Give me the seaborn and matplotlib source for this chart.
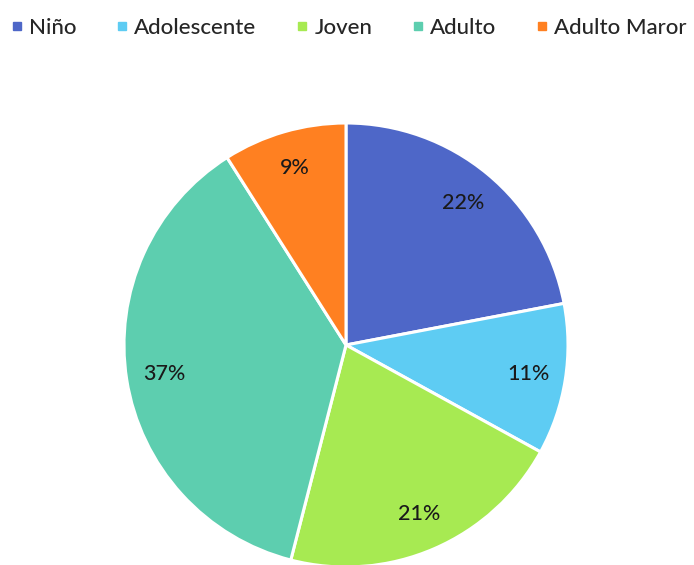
import numpy as np
import matplotlib
matplotlib.use("Agg")
import matplotlib.pyplot as plt
from matplotlib.lines import Line2D
import seaborn as sns

#%% Data

categorias = ['Niño', 'Adolescente', 'Joven', 'Adulto', 'Adulto Maror']
porcentajes = [22, 11, 21, 37, 9]
colores = ['#4E67C8', '#5ECCF3', '#A7EA52', '#5DCEAF', '#FF8021']

#%% Style

sns.set_theme(style="white")
plt.rcParams['font.family'] = ['Lato', 'DejaVu Sans']
palette = sns.color_palette(colores)

fig = plt.figure(figsize=(6.94, 5.65), dpi=100)
ax = fig.add_axes([124/694, -2/565, 444/694, 444/565])

wedges, texts, autotexts = ax.pie(
    porcentajes, colors=palette, startangle=90, counterclock=False,
    autopct='%1.0f%%', pctdistance=0.83,
    wedgeprops={'edgecolor': 'white', 'linewidth': 2.2},
    textprops={'fontsize': 15.5, 'color': '#1a1a1a', 'fontweight': 'medium'})
ax.set_xlim(-1.0, 1.0)
ax.set_ylim(-1.0, 1.0)
ax.set_aspect('equal')
ax.axis('off')

handles = [Line2D([0], [0], marker='s', linestyle='', markersize=6,
                  markerfacecolor=c, markeredgecolor=c) for c in palette]
fig.legend(handles, categorias, loc='center', bbox_to_anchor=(0.502, 1 - 28/565),
           ncol=5, frameon=False, handletextpad=0.25,
           columnspacing=1.75, handlelength=0.6,
           prop={'size': 16, 'weight': 'medium'})

fig.savefig('out.png', dpi=100)
